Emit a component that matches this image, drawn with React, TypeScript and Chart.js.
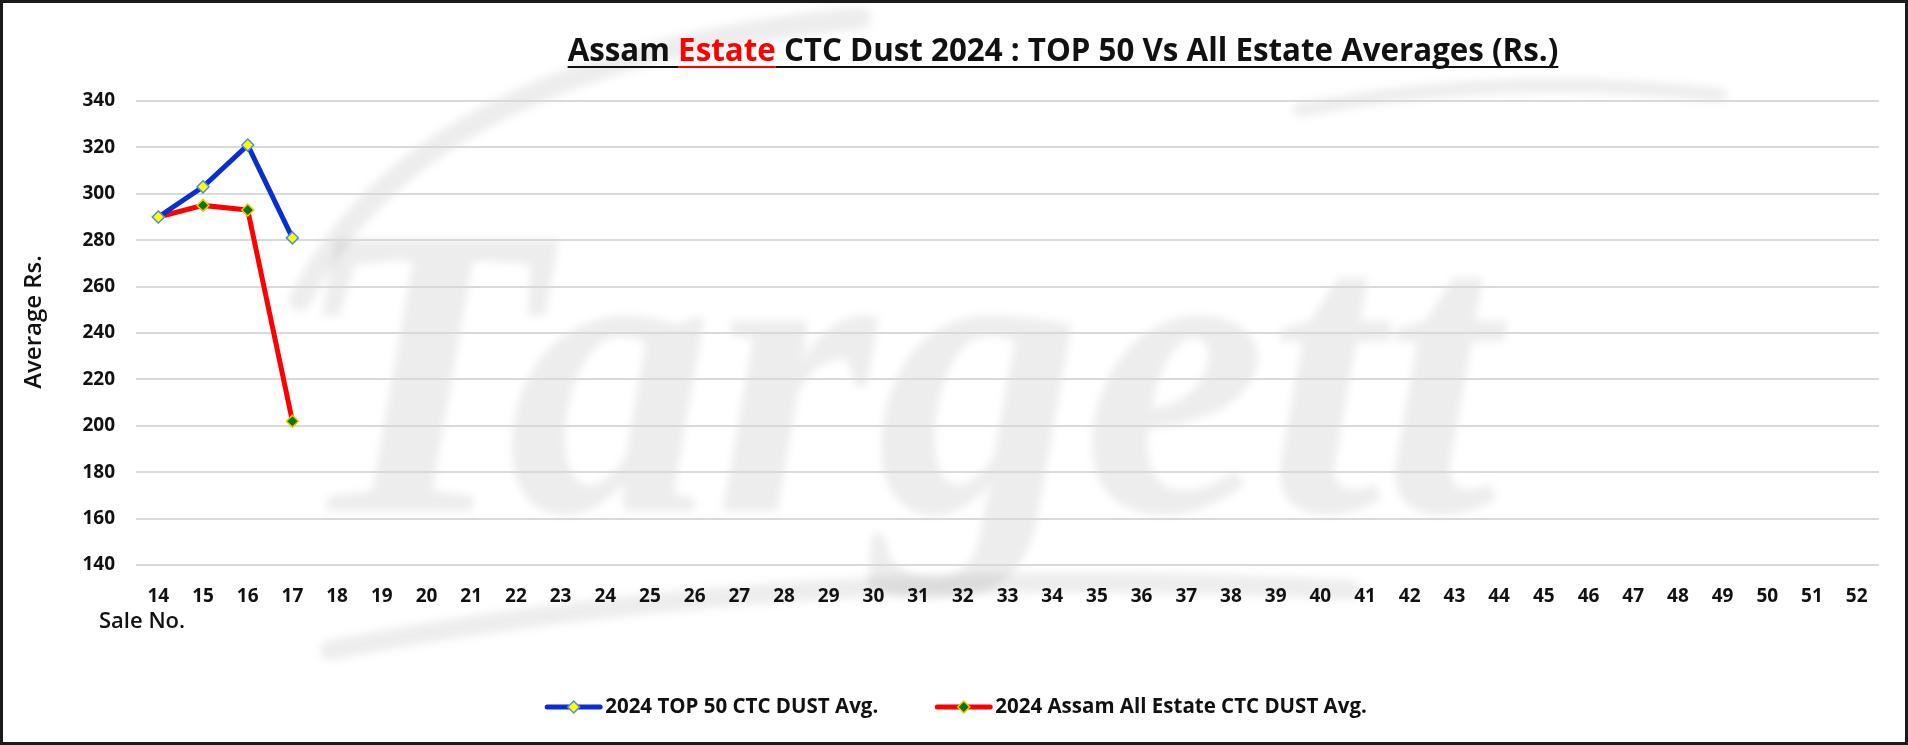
import React, { useEffect, useRef } from "react";
import { Chart, registerables } from "chart.js";

Chart.register(...registerables);

// ---------- data ----------
const saleNos: string[] = [
  "14", "15", "16", "17", "18", "19", "20", "21", "22", "23", "24", "25", "26",
  "27", "28", "29", "30", "31", "32", "33", "34", "35", "36", "37", "38", "39",
  "40", "41", "42", "43", "44", "45", "46", "47", "48", "49", "50", "51", "52",
];
const top50Avg: number[] = [290, 303, 321, 281];
const allEstateAvg: number[] = [290, 295, 293, 202];
const seriesLabels: string[] = ["2024 TOP 50 CTC DUST Avg.", "2024 Assam All Estate CTC DUST Avg."];
const yMin = 140;
const yMax = 340;
const yStep = 20;
const titleParts: { text: string; color: string }[] = [
  { text: "Assam ", color: "#111111" },
  { text: "Estate", color: "#ff0000" },
  { text: " CTC Dust 2024 : TOP 50 Vs All Estate Averages (Rs.)", color: "#111111" },
];
const yAxisTitle = "Average Rs.";
const xAxisTitle = "Sale No.";
const watermark = "Targett";

// ---------- styles ----------
const W = 1908;
const H = 745;
const FONT = "'Open Sans', 'Liberation Sans', sans-serif";
const BLUE = "#0a2fd0";
const RED = "#ff0000";

const decorPlugin = {
  id: "decor",
  beforeDraw(chart: any) {
    const ctx = chart.ctx as CanvasRenderingContext2D;
    ctx.save();
    ctx.fillStyle = "#ffffff";
    ctx.fillRect(0, 0, W, H);
    // watermark swooshes
    ctx.filter = "blur(4px)";
    ctx.strokeStyle = "rgba(0,0,0,0.07)";
    ctx.lineCap = "round";
    ctx.lineWidth = 22;
    ctx.beginPath();
    ctx.moveTo(300, 300);
    ctx.quadraticCurveTo(420, 60, 860, 18);
    ctx.stroke();
    ctx.lineWidth = 14;
    ctx.beginPath();
    ctx.moveTo(1300, 110);
    ctx.quadraticCurveTo(1500, 70, 1720, 95);
    ctx.stroke();
    ctx.lineWidth = 20;
    ctx.beginPath();
    ctx.moveTo(330, 650);
    ctx.quadraticCurveTo(800, 560, 1350, 590);
    ctx.stroke();
    // watermark text
    ctx.fillStyle = "rgba(0,0,0,0.07)";
    const fs = 400;
    ctx.font = `italic bold ${fs}px 'Liberation Serif', 'DejaVu Serif', serif`;
    const tw = ctx.measureText(watermark).width;
    const scale = 1205 / tw;
    ctx.font = `italic bold ${fs * scale}px 'Liberation Serif', 'DejaVu Serif', serif`;
    ctx.textBaseline = "alphabetic";
    ctx.textAlign = "left";
    ctx.fillText(watermark, 292, 511);
    ctx.filter = "none";
    ctx.restore();
  },
  afterDraw(chart: any) {
    const ctx = chart.ctx as CanvasRenderingContext2D;
    ctx.save();
    // title
    ctx.font = `bold 100px ${FONT}`;
    const full = titleParts.map((p) => p.text).join("");
    const fw = ctx.measureText(full).width;
    const tsize = (100 * 991) / fw;
    ctx.font = `bold ${tsize}px ${FONT}`;
    const totalW = ctx.measureText(full).width;
    let x = 1063 - totalW / 2;
    const baseY = 61;
    ctx.textBaseline = "alphabetic";
    ctx.textAlign = "left";
    for (const p of titleParts) {
      const w = ctx.measureText(p.text).width;
      ctx.fillStyle = p.color;
      ctx.fillText(p.text, x, baseY);
      ctx.fillRect(x, baseY + 5, w, 2);
      x += w;
    }
    // y axis title
    ctx.save();
    ctx.translate(34, 322);
    ctx.rotate(-Math.PI / 2);
    ctx.font = `600 24px ${FONT}`;
    ctx.fillStyle = "#111111";
    ctx.textAlign = "center";
    ctx.textBaseline = "middle";
    ctx.fillText(yAxisTitle, 0, 0);
    ctx.restore();
    // x axis title
    ctx.font = `600 22px ${FONT}`;
    ctx.fillStyle = "#111111";
    ctx.textAlign = "left";
    ctx.textBaseline = "middle";
    ctx.fillText(xAxisTitle, 99, 622);
    // legend
    ctx.font = `bold 20.5px ${FONT}`;
    const lineLen = 57;
    const gap = 57;
    const items = chart.data.datasets.map((d: any) => ({
      label: d.label as string,
      color: d.borderColor as string,
      fill: d.pointBackgroundColor as string,
      pborder: d.pointBorderColor as string,
      w: lineLen + 3 + ctx.measureText(d.label).width,
    }));
    const legW = items.reduce((s: number, it: any) => s + it.w, 0) + gap * (items.length - 1);
    let lx = W / 2 - legW / 2 + 2;
    const ly = 707;
    for (const it of items) {
      ctx.strokeStyle = it.color;
      ctx.lineWidth = 5;
      ctx.lineCap = "round";
      ctx.beginPath();
      ctx.moveTo(lx + 2, ly);
      ctx.lineTo(lx + lineLen - 2, ly);
      ctx.stroke();
      const cx = lx + lineLen / 2;
      const r = 6;
      ctx.beginPath();
      ctx.moveTo(cx, ly - r);
      ctx.lineTo(cx + r, ly);
      ctx.lineTo(cx, ly + r);
      ctx.lineTo(cx - r, ly);
      ctx.closePath();
      ctx.fillStyle = it.fill;
      ctx.fill();
      ctx.lineWidth = 1.5;
      ctx.strokeStyle = it.pborder;
      ctx.stroke();
      ctx.fillStyle = "#111111";
      ctx.textAlign = "left";
      ctx.textBaseline = "middle";
      ctx.fillText(it.label, lx + lineLen + 3, ly);
      lx += it.w + gap;
    }
    // frame
    ctx.strokeStyle = "#1a1a1a";
    ctx.lineWidth = 3;
    ctx.strokeRect(1.5, 1.5, W - 3, H - 3);
    ctx.restore();
  },
};

export default function App() {
  const ref = useRef<HTMLCanvasElement | null>(null);
  useEffect(() => {
    if (!ref.current) return;
    const chart = new Chart(ref.current, {
      type: "line",
      data: {
        labels: saleNos,
        datasets: [
          {
            label: seriesLabels[0],
            data: top50Avg,
            borderColor: BLUE,
            backgroundColor: BLUE,
            borderWidth: 5,
            pointStyle: "rectRot",
            pointRadius: 6,
            pointBorderWidth: 1.5,
            pointBackgroundColor: "#ffff00",
            pointBorderColor: "#4f8fe0",
            tension: 0,
          },
          {
            label: seriesLabels[1],
            data: allEstateAvg,
            borderColor: RED,
            backgroundColor: RED,
            borderWidth: 5,
            pointStyle: "rectRot",
            pointRadius: 6,
            pointBorderWidth: 1.5,
            pointBackgroundColor: "#007a00",
            pointBorderColor: "#ffc000",
            tension: 0,
          },
        ],
      },
      options: {
        responsive: false,
        animation: false,
        layout: { padding: { left: 0, right: 29, top: 101, bottom: 130 } },
        plugins: {
          legend: { display: false },
          title: { display: false },
          tooltip: { enabled: false },
        },
        scales: {
          x: {
            type: "category",
            offset: true,
            grid: { display: false, drawTicks: false },
            border: { display: false },
            ticks: {
              color: "#111111",
              font: { family: FONT, size: 19, weight: "bold" },
              padding: 20,
              maxRotation: 0,
              autoSkip: false,
            },
            afterFit: (s: any) => {
              s.height = 50;
            },
          },
          y: {
            min: yMin,
            max: yMax,
            grid: { color: "#d9d9d9", lineWidth: 2, drawTicks: false },
            border: { display: false },
            ticks: {
              stepSize: yStep,
              color: "#111111",
              font: { family: FONT, size: 19, weight: "bold" },
              padding: 21,
            },
            afterFit: (s: any) => {
              s.width = 136;
            },
          },
        },
      },
      plugins: [decorPlugin],
    } as any);
    return () => chart.destroy();
  }, []);
  return (
    <div style={{ position: "absolute", left: 0, top: 0, width: W, height: H }}>
      <canvas ref={ref} width={W} height={H} style={{ display: "block", width: W, height: H }} />
    </div>
  );
}
